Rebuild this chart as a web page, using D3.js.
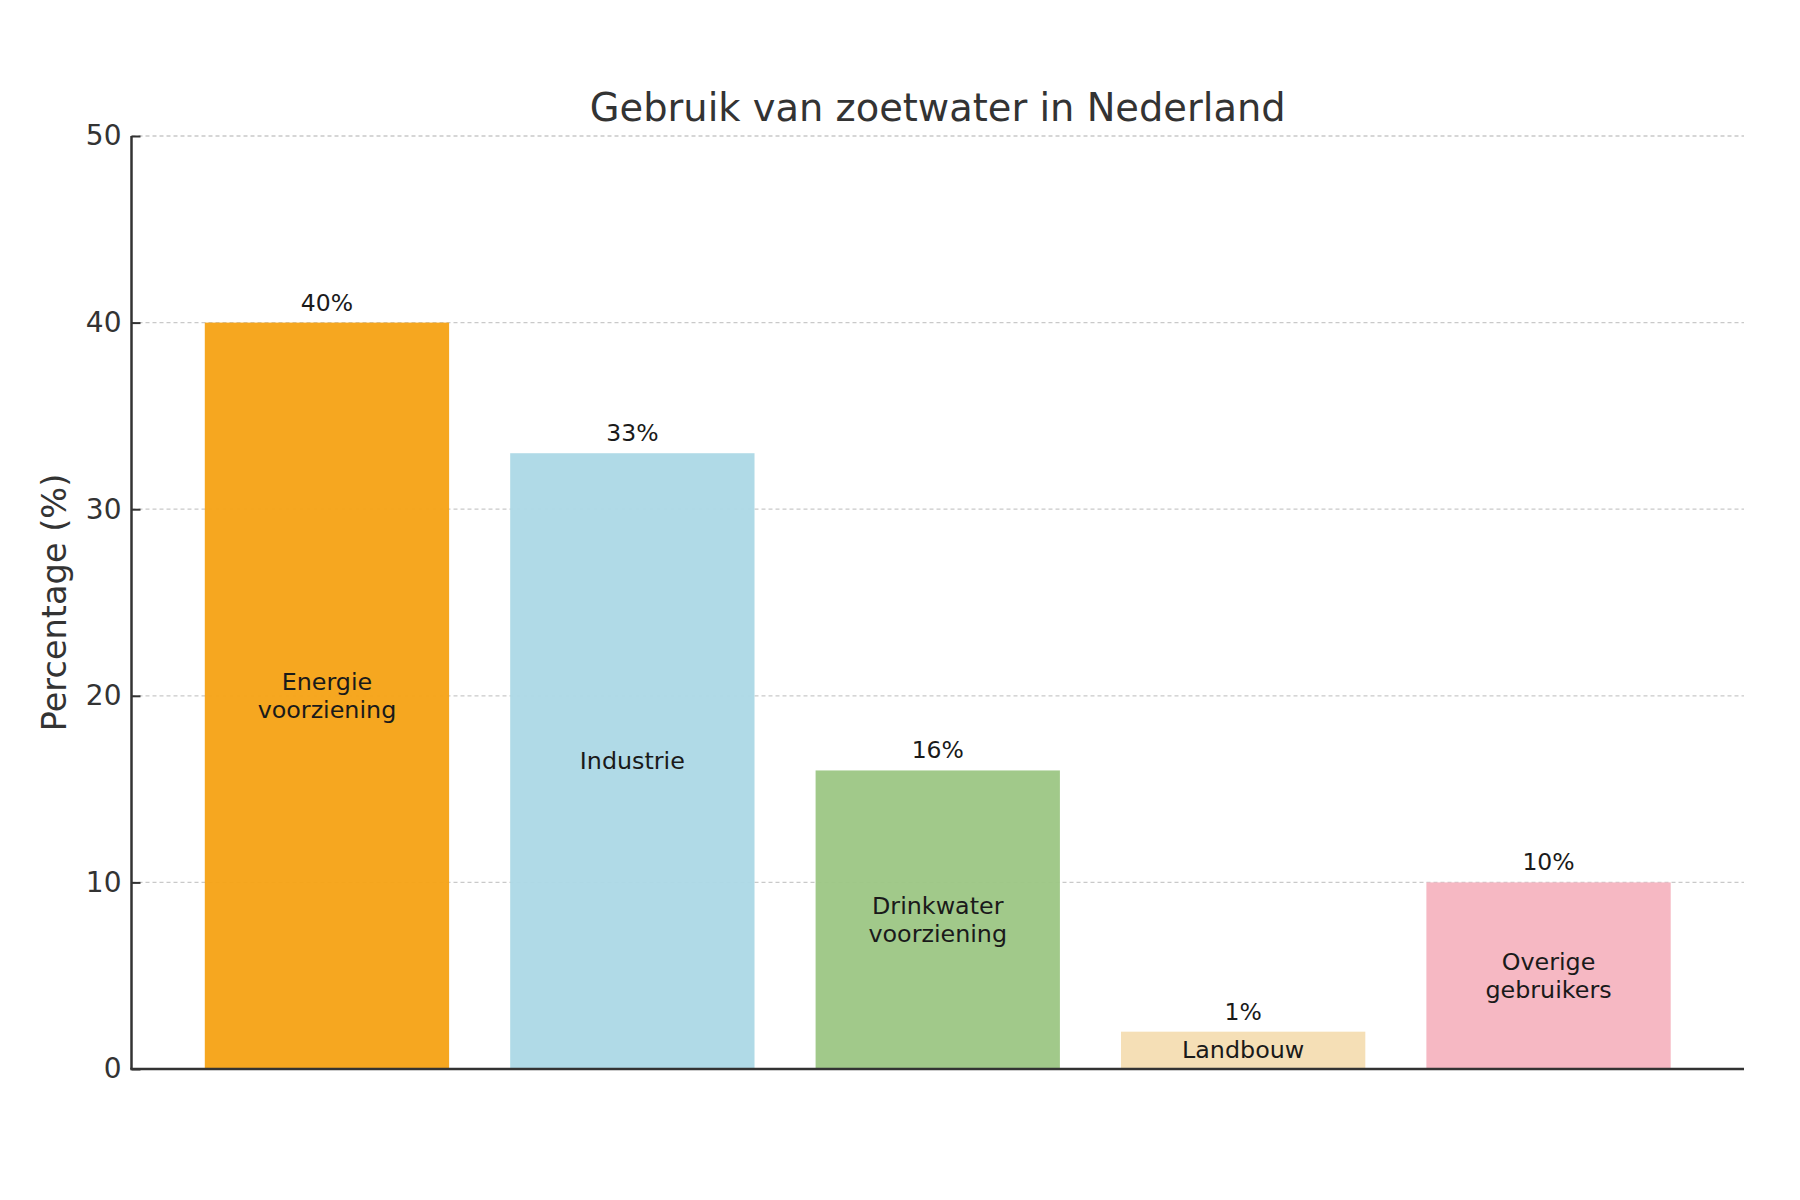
<!DOCTYPE html>
<html lang="nl">
<head>
    <meta charset="UTF-8">
    <title>Gebruik van zoetwater in Nederland</title>
    <script src="https://d3js.org/d3.v7.min.js"></script>
    <style>
        body{
            margin:0;
            background:#ffffff;
        }
        svg text{
            font-family:"DejaVu Sans", sans-serif;
        }
    </style>
</head>
<body>

<script type="text/javascript">

    // data
    var categories = ["Energie\nvoorziening", "Industrie", "Drinkwater\nvoorziening", "Landbouw", "Overige\ngebruikers"];
    var values = [40, 33, 16, 2, 10];
    var valueLabels = ["40%", "33%", "16%", "1%", "10%"];
    var colors = ["#F6A317", "#ADD8E6", "#9DC785", "#F5DEB3", "#F6B5C1"];
    var yTicks = [0, 10, 20, 30, 40, 50];

    // size (note: "top" is taken by window.top, so plot* names)
    var w = 1800;
    var h = 1200;
    var plotLeft = 131.5, plotRight = 1744, plotTop = 136, plotBottom = 1069;

    var xScale = d3.scaleBand()
                    .domain(d3.range(values.length))
                    .range([plotLeft, plotRight])
                    .paddingInner(0.2)
                    .paddingOuter(0.24);

    var yScale = d3.scaleLinear()
                    .domain([0, 50])
                    .range([plotBottom, plotTop]);

    var svg = d3.select("body")
                .append("svg")
                .attr("width", w)
                .attr("height", h);

    svg.append("rect")
       .attr("width", w)
       .attr("height", h)
       .attr("fill", "#ffffff");

    // grid
    svg.selectAll("line.grid")
       .data(yTicks.slice(1))
       .enter()
       .append("line")
       .attr("class", "grid")
       .attr("x1", plotLeft)
       .attr("x2", plotRight)
       .attr("y1", function(d){ return yScale(d); })
       .attr("y2", function(d){ return yScale(d); })
       .attr("stroke", "#c9c9c9")
       .attr("stroke-width", 1.3)
       .attr("stroke-dasharray", "4,3");

    // bars
    svg.selectAll("rect.bar")
       .data(values)
       .enter()
       .append("rect")
       .attr("class", "bar")
       .attr("x", function(d, i){ return xScale(i); })
       .attr("y", function(d){ return yScale(d); })
       .attr("width", xScale.bandwidth())
       .attr("height", function(d){ return yScale(0) - yScale(d); })
       .attr("fill", function(d, i){ return colors[i]; })
       .attr("fill-opacity", 0.96);

    // value labels above bars
    svg.selectAll("text.val")
       .data(values)
       .enter()
       .append("text")
       .attr("class", "val")
       .attr("x", function(d, i){ return xScale(i) + xScale.bandwidth() / 2; })
       .attr("y", function(d){ return yScale(d) - 12; })
       .attr("text-anchor", "middle")
       .attr("font-size", "23.5px")
       .attr("fill", "#1a1a1a")
       .text(function(d, i){ return valueLabels[i]; });

    // category labels inside bars
    var catLabels = svg.selectAll("text.cat")
       .data(values)
       .enter()
       .append("text")
       .attr("class", "cat")
       .attr("text-anchor", "middle")
       .attr("font-size", "23.8px")
       .attr("fill", "#1a1a1a");

    catLabels.each(function(d, i){
        var lines = categories[i].split("\n");
        var cx = xScale(i) + xScale.bandwidth() / 2;
        var cy = yScale(d / 2);
        var lh = 28;
        d3.select(this).selectAll("tspan")
          .data(lines)
          .enter()
          .append("tspan")
          .attr("x", cx)
          .attr("y", function(t, j){ return cy - (lines.length - 1) * lh / 2 + j * lh; })
          .attr("dy", "0.34em")
          .text(function(t){ return t; });
    });

    // y axis
    var yAxis = d3.axisLeft(yScale)
                  .tickValues(yTicks)
                  .tickSize(-9)
                  .tickPadding(10);

    var gy = svg.append("g")
                .attr("transform", "translate(" + plotLeft + ",0)")
                .call(yAxis);

    gy.select(".domain")
      .attr("d", "M0," + plotTop + "V" + plotBottom)
      .attr("stroke", "#333333")
      .attr("stroke-width", 2.5);
    gy.selectAll(".tick line")
      .attr("stroke", "#333333")
      .attr("stroke-width", 2);
    gy.selectAll(".tick text")
      .attr("font-family", "DejaVu Sans, sans-serif")
      .attr("font-size", "28px")
      .attr("fill", "#333333");

    // x axis line
    svg.append("line")
       .attr("x1", plotLeft - 1.25)
       .attr("x2", plotRight)
       .attr("y1", plotBottom)
       .attr("y2", plotBottom)
       .attr("stroke", "#333333")
       .attr("stroke-width", 2.5);

    // title
    svg.append("text")
       .attr("x", (plotLeft + plotRight) / 2)
       .attr("y", 121)
       .attr("text-anchor", "middle")
       .attr("font-size", "38.4px")
       .attr("fill", "#333333")
       .text("Gebruik van zoetwater in Nederland");

    // y label
    svg.append("text")
       .attr("transform", "translate(66," + ((plotTop + plotBottom) / 2) + ") rotate(-90)")
       .attr("text-anchor", "middle")
       .attr("font-size", "33.6px")
       .attr("fill", "#333333")
       .text("Percentage (%)");

</script>

</body>
</html>
